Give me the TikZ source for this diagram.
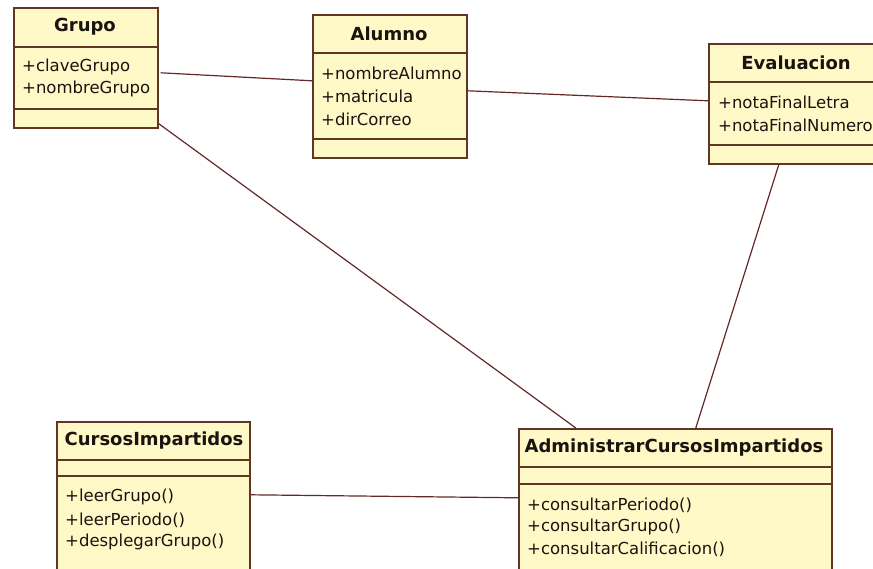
\documentclass[tikz,border=0pt]{standalone}
\usepackage{fontspec}
\setmainfont{DejaVu Sans}
\definecolor{boxc}{RGB}{95,55,35}
\definecolor{fillc}{RGB}{255,249,200}
\definecolor{linec}{RGB}{100,40,40}
\definecolor{txt}{RGB}{25,20,15}
\begin{document}
\begin{tikzpicture}[x=1pt,y=-1pt,
  classbox/.style={draw=boxc, fill=fillc, line width=1.6pt, inner sep=0, anchor=north west},
  sepline/.style={draw=boxc, line width=1.6pt},
  title/.style={font=\fontsize{18}{20}\selectfont\bfseries, text=txt, inner sep=0},
  item/.style={font=\fontsize{16.5}{19}\selectfont, text=txt, anchor=west, inner sep=0},
  assoc/.style={draw=linec, line width=1.2pt}]
\useasboundingbox (0,0) rectangle (873,569);
\clip (0,0) rectangle (873,569);
\fill[white] (0,0) rectangle (873,569);

% Grupo
\node[classbox, minimum width=144, minimum height=120] (grupo) at (13,7) {};
\draw[sepline] (13,47) -- (157,47);
\draw[sepline] (13,109) -- (157,109);
\node[title] (grupoT) at (85,27) {Grupo};
\node[item] (g1) at (22,67) {+claveGrupo};
\node[item] (g2) at (22,89) {+nombreGrupo};

% Alumno
\node[classbox, minimum width=154, minimum height=143] (alumno) at (312,14) {};
\draw[sepline] (312,53) -- (466,53);
\draw[sepline] (312,139) -- (466,139);
\node[title] (alumnoT) at (389,34) {Alumno};
\node[item] (a1) at (321,73) {+nombreAlumno};
\node[item] (a2) at (321,96) {+matricula};
\node[item] (a3) at (321,119) {+dirCorreo};

% Evaluacion
\node[classbox, minimum width=176, minimum height=120] (eval) at (708,43) {};
\draw[sepline] (708,82) -- (884,82);
\draw[sepline] (708,145) -- (884,145);
\node[title] (evalT) at (796,63) {Evaluacion};
\node[item] (e1) at (718,102) {+notaFinalLetra};
\node[item] (e2) at (718,125) {+notaFinalNumero};

% CursosImpartidos
\node[classbox, minimum width=193, minimum height=170] (cursos) at (56,421) {};
\draw[sepline] (56,460) -- (249,460);
\draw[sepline] (56,476) -- (249,476);
\node[title] (cursosT) at (154,441) {CursosImpartidos};
\node[item] (c1) at (65,497) {+leerGrupo()};
\node[item] (c2) at (65,520) {+leerPeriodo()};
\node[item] (c3) at (65,542) {+desplegarGrupo()};

% AdministrarCursosImpartidos
\node[classbox, minimum width=313, minimum height=160] (admin) at (518,428) {};
\draw[sepline] (518,467) -- (831,467);
\draw[sepline] (518,484) -- (831,484);
\node[title] (adminT) at (674,448) {AdministrarCursosImpartidos};
\node[item] (d1) at (527,505) {+consultarPeriodo()};
\node[item] (d2) at (527,527) {+consultarGrupo()};
\node[item] (d3) at (527,549) {+consultarCalificacion()};

% associations
\draw[assoc] ([xshift=2pt,yshift=-5pt]grupo.east) -- ([yshift=5.5pt]alumno.west);
\draw[assoc] ([yshift=-4.5pt]alumno.east) -- ([yshift=3pt]eval.west);
\draw[assoc] ([yshift=5pt]grupo.south east) -- ([xshift=-99.5pt]admin.north);
\draw[assoc] ([xshift=-18pt]eval.south) -- ([xshift=20.5pt]admin.north);
\draw[assoc] ([yshift=12pt]cursos.east) -- ([yshift=11pt]admin.west);
\end{tikzpicture}
\end{document}
